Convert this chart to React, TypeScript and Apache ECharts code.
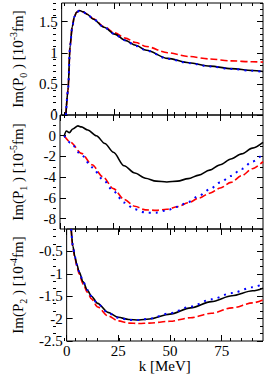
import React, { useEffect, useRef } from "react";
import * as echarts from "echarts";

// ---- data ----
const kP0 = [2, 3, 4, 5, 6, 7, 8.5, 10, 12, 15, 20, 25, 30, 35, 40, 50, 60, 70, 80, 90, 95];
const p0Black = [0, 0.4, 1.12, 1.42, 1.58, 1.65, 1.68, 1.66, 1.62, 1.54, 1.41, 1.3, 1.2, 1.12, 1.04, 0.91, 0.84, 0.785, 0.745, 0.715, 0.7];
const p0Blue = [0, 0.4, 1.12, 1.42, 1.58, 1.65, 1.68, 1.66, 1.62, 1.54, 1.41, 1.3, 1.2, 1.11, 1.035, 0.905, 0.835, 0.78, 0.74, 0.71, 0.695];
const p0Red = [0, 0.4, 1.12, 1.42, 1.58, 1.65, 1.68, 1.66, 1.62, 1.545, 1.42, 1.32, 1.235, 1.165, 1.1, 1.0, 0.94, 0.9, 0.87, 0.855, 0.85];

const kP1Black = [2, 3, 4.4, 6, 8.4, 10, 13, 17, 21, 25, 30, 35, 40, 45, 50, 55, 60, 65, 70, 75, 80, 85, 90, 95];
const p1Black = [0, 0.45, 0.3, 0.65, 0.95, 0.85, 0.55, 0.0, -0.75, -1.6, -2.9, -3.6, -4.1, -4.38, -4.46, -4.38, -4.14, -3.8, -3.32, -2.8, -2.25, -1.75, -1.2, -0.65];
const kP1 = [2, 5, 10, 15, 20, 25, 30, 35, 40, 45, 50, 55, 60, 65, 70, 75, 80, 85, 90, 95];
const p1Blue = [0, -0.7, -1.85, -3.05, -4.2, -5.35, -6.45, -7.1, -7.42, -7.42, -7.2, -6.85, -6.4, -5.8, -5.18, -4.5, -3.88, -3.2, -2.5, -1.75];
const p1Red = [0, -0.65, -1.7, -2.8, -3.95, -5.1, -6.15, -6.8, -7.15, -7.2, -7.1, -6.85, -6.47, -6.02, -5.55, -5.05, -4.5, -3.86, -3.18, -2.5];

const kP2 = [2.2, 3, 4, 5, 6, 8, 10, 12, 15, 20, 25, 30, 35, 40, 50, 60, 70, 80, 90, 95];
const p2Black = [0, -0.38, -0.62, -0.8, -0.95, -1.18, -1.36, -1.5, -1.66, -1.86, -1.97, -2.02, -2.03, -2.01, -1.9, -1.76, -1.62, -1.49, -1.38, -1.32];
const p2Blue = [0, -0.38, -0.62, -0.8, -0.95, -1.18, -1.36, -1.5, -1.67, -1.87, -1.98, -2.03, -2.03, -2.0, -1.88, -1.73, -1.57, -1.43, -1.3, -1.23];
const p2Red = [0, -0.4, -0.65, -0.84, -1.0, -1.23, -1.41, -1.56, -1.74, -1.94, -2.05, -2.1, -2.11, -2.1, -2.06, -1.98, -1.88, -1.76, -1.65, -1.58];

const xTicks = [0, 25, 50, 75];
const xMinorTicks = [5, 10, 15, 20, 30, 35, 40, 45, 55, 60, 65, 70, 80, 85, 90];
const p0Ticks = [0, 0.5, 1, 1.5];
const p1Ticks = [0, -2, -4, -6, -8];
const p2Ticks = [-0.5, -1, -1.5, -2, -2.5];

const FONT = "Liberation Serif";

function range(a: number, b: number, step: number, skipEvery: number) {
  const out: number[] = [];
  const n = Math.round((b - a) / step);
  for (let i = 0; i <= n; i++) {
    const v = Math.round((a + i * step) * 1000) / 1000;
    const r = v / skipEvery;
    if (Math.abs(r - Math.round(r)) < 1e-6) continue;
    out.push(v);
  }
  return out;
}

const panels = [
  { top: 3, height: 112, min: 0, max: 1.8, ticks: p0Ticks, minor: range(0, 1.8, 0.1, 0.5), sub: "0", exp: "-3",
    series: [
      { k: kP0, v: p0Red, c: "red" },
      { k: kP0, v: p0Black, c: "black" },
      { k: kP0, v: p0Blue, c: "blue" },
    ] },
  { top: 115, height: 114, min: -9, max: 2, ticks: p1Ticks, minor: range(-9, 2, 1, 2), sub: "1", exp: "-5",
    series: [
      { k: kP1, v: p1Red, c: "red" },
      { k: kP1Black, v: p1Black, c: "black" },
      { k: kP1, v: p1Blue, c: "blue" },
    ] },
  { top: 229, height: 112, min: -2.5, max: 0, ticks: p2Ticks, minor: range(-2.5, 0, 1 / 6, 0.5), sub: "2", exp: "-4",
    series: [
      { k: kP2, v: p2Red, c: "red" },
      { k: kP2, v: p2Black, c: "black" },
      { k: kP2, v: p2Blue, c: "blue" },
    ] },
];

function buildOption() {
  const grid: any[] = [];
  const xAxis: any[] = [];
  const yAxis: any[] = [];
  const series: any[] = [];
  panels.forEach((p, pi) => {
    for (let layer = 0; layer < 2; layer++) {
      const g = grid.length;
      grid.push({
        left: 53, width: 210, top: p.top, height: p.height,
        show: layer === 0, borderColor: "#000", borderWidth: 1, backgroundColor: "transparent",
        containLabel: false,
      });
      const major = layer === 0;
      ["bottom", "top"].forEach((pos) => {
        const isLabel = major && pos === "bottom" && pi === 2;
        xAxis.push({
          type: "value", gridIndex: g, position: pos, min: 0, max: 95,
          axisLine: { show: false, onZero: false },
          splitLine: { show: false },
          axisTick: { show: true, inside: true, length: major ? 6 : 3, customValues: major ? xTicks : xMinorTicks, lineStyle: { color: "#000", width: 1 } },
          axisLabel: { show: isLabel, customValues: xTicks, fontFamily: FONT, fontSize: 15, color: "#000", margin: 2 },
          name: isLabel ? "k [MeV]" : "",
          nameLocation: "middle", nameGap: 16,
          nameTextStyle: { fontFamily: FONT, fontSize: 15, color: "#000" },
        });
      });
      ["left", "right"].forEach((pos) => {
        const isLabel = major && pos === "left";
        yAxis.push({
          type: "value", gridIndex: g, position: pos, min: p.min, max: p.max,
          axisLine: { show: false, onZero: false },
          splitLine: { show: false },
          axisTick: { show: true, inside: true, length: major ? 6 : 3, customValues: major ? p.ticks : p.minor, lineStyle: { color: "#000", width: 1 } },
          axisLabel: { show: isLabel, customValues: p.ticks, fontFamily: FONT, fontSize: 15, color: "#000", margin: 4 },
          name: isLabel ? `{n|Im(P}{s|${p.sub}}{n| ) [10}{p|${p.exp}}{n|fm]}` : "",
          nameLocation: "middle", nameGap: 32, nameRotate: 90,
          nameTextStyle: {
            fontFamily: FONT, fontSize: 15, color: "#000",
            rich: {
              n: { fontFamily: FONT, fontSize: 15, color: "#000", lineHeight: 20, verticalAlign: "middle" },
              s: { fontFamily: FONT, fontSize: 10, color: "#000", lineHeight: 10, verticalAlign: "bottom" },
              p: { fontFamily: FONT, fontSize: 10, color: "#000", lineHeight: 10, verticalAlign: "top" },
            },
          },
        });
      });
    }
    const axisIdx = pi * 4;
    p.series.forEach((s) => {
      const style: any =
        s.c === "black" ? { color: "#000", width: 1.6, type: "solid" } :
        s.c === "red" ? { color: "#ff0000", width: 1.6, type: [7, 3] } :
        { color: "#0000ff", width: 2, type: [2, 5] };
      series.push({
        type: "line",
        xAxisIndex: axisIdx, yAxisIndex: axisIdx,
        data: s.k.map((k, i) => [k, s.v[i]]),
        showSymbol: false, symbol: "none",
        smooth: 0.3, smoothMonotone: "x",
        lineStyle: style,
        clip: true,
        silent: true,
      });
    });
  });
  return { animation: false, textStyle: { fontFamily: FONT }, grid, xAxis, yAxis, series };
}

export default function App() {
  const ref = useRef<HTMLDivElement>(null);
  useEffect(() => {
    if (!ref.current) return;
    const chart = echarts.init(ref.current, undefined, { renderer: "svg" });
    chart.setOption(buildOption() as any);
    return () => chart.dispose();
  }, []);
  return <div ref={ref} style={{ position: "fixed", left: 0, top: 0, width: 266, height: 375, background: "#fff" }} />;
}
